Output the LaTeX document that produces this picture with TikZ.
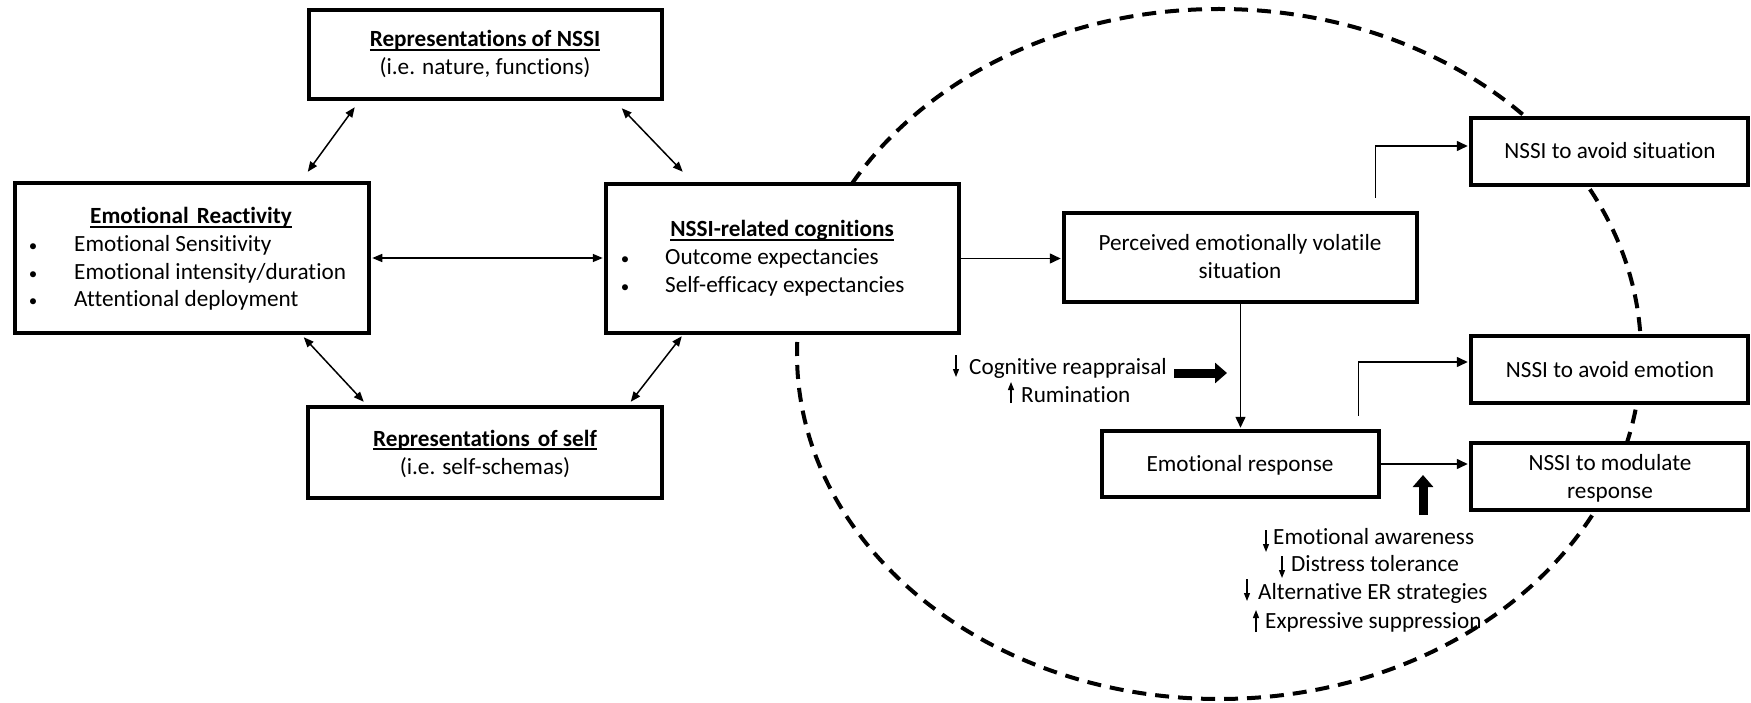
\documentclass[tikz,border=0pt]{standalone}
\usepackage{fontspec}
\setmainfont{Carlito}[Ligatures=CommonOff]
\usetikzlibrary{arrows.meta,calc}
\newcommand\myul[1]{\setbox0\hbox{#1}\rlap{\rule[-4pt]{\wd0}{1.6pt}}\box0}
\newcommand\mybul{{\fontsize{17}{17}\selectfont •}}
\begin{document}
\begin{tikzpicture}[x=1pt,y=-1pt,
  box/.style={draw, line width=4.5pt, fill=white, inner sep=0pt},
  txt/.style={font=\fontsize{23.2}{27.5}\selectfont, inner sep=0pt, anchor=base},
  ltxt/.style={txt, anchor=base west},
  dbl/.style={{Triangle[width=8pt,length=10pt]}-{Triangle[width=8pt,length=10pt]}, line width=1.5pt},
  one/.style={-{Triangle[width=10pt,length=11pt]}, line width=1.5pt},
  thickarr/.style={line width=9pt, -{Triangle[width=20pt,length=12pt]}},
  smallarr/.style={line width=1.2pt, -{Triangle[width=6pt,length=8pt]}},
  circ/.style={line width=4pt, dash pattern=on 14pt off 9pt}
]
\useasboundingbox (0,0) rectangle (1751,703);

% dashed ellipse (behind boxes)
\draw[circ] (1219,354) ellipse [x radius=422pt, y radius=345pt];

% boxes
\node[box, minimum width=353pt, minimum height=89pt] (repN) at (485.5,54.5) {};
\node[box, minimum width=354pt, minimum height=150pt] (emo) at (192,258) {};
\node[box, minimum width=353pt, minimum height=149pt] (cog) at (782.5,258.5) {};
\node[box, minimum width=354pt, minimum height=91pt] (repS) at (485,452.5) {};
\node[box, minimum width=353pt, minimum height=89pt] (perc) at (1240.5,257.5) {};
\node[box, minimum width=277pt, minimum height=66pt] (resp) at (1240.5,464) {};
\node[box, minimum width=277pt, minimum height=67pt] (avS) at (1609.5,151.5) {};
\node[box, minimum width=277pt, minimum height=67pt] (avE) at (1609.5,369.5) {};
\node[box, minimum width=277pt, minimum height=67pt] (mod) at (1609.5,476.5) {};

% box texts
\node[txt] (repNt) at (485,47) {\myul{\textbf{Representations of NSSI}}};
\node[txt] (repNs) at (485,75) {(i.e. nature, functions)};

\node[txt] (emot) at (191,224) {\myul{\textbf{Emotional\hspace{0.35em}Reactivity}}};
\node[txt] (emob1) at (33,252) {\mybul};
\node[txt] (emob2) at (33,280) {\mybul};
\node[txt] (emob3) at (33,307) {\mybul};
\node[ltxt] (emo1) at (74,252) {Emotional Sensitivity};
\node[ltxt] (emo2) at (74,280) {Emotional intensity/duration};
\node[ltxt] (emo3) at (74,307) {Attentional deployment};

\node[txt] (cogt) at (782,237) {\myul{\textbf{NSSI-related cognitions}}};
\node[txt] (cogb1) at (625,265) {\mybul};
\node[txt] (cogb2) at (625,293) {\mybul};
\node[ltxt] (cog1) at (665,265) {Outcome expectancies};
\node[ltxt] (cog2) at (665,293) {Self-efficacy expectancies};

\node[txt] (repSt) at (485,446) {\myul{\textbf{Representations\hspace{0.35em}of self}}};
\node[txt] (repSs) at (485,474) {(i.e. self-schemas)};

\node[txt] (perc1) at (1240,251) {Perceived emotionally volatile};
\node[txt] (perc2) at (1240,279) {situation};
\node[txt] (respt) at (1240,471) {Emotional response};
\node[txt] (avSt) at (1610,159) {NSSI to avoid situation};
\node[txt] (avEt) at (1610,377) {NSSI to avoid emotion};
\node[txt] (mod1) at (1610,470) {NSSI to modulate};
\node[txt] (mod2) at (1610,498) {response};

% moderator texts
\node[ltxt] (cr) at (969,374) {Cognitive reappraisal};
\node[ltxt] (ru) at (1021,402) {Rumination};
\node[ltxt] (ea) at (1273,544) {Emotional awareness};
\node[ltxt] (dt) at (1291,571) {Distress tolerance};
\node[ltxt] (ae) at (1258,599) {Alternative ER strategies};
\node[ltxt] (es) at (1265,628) {Expressive suppression};

% small arrows
\coordinate (a1s) at (956,355);  \coordinate (a1e) at (956,377);
\coordinate (a2s) at (1011,403); \coordinate (a2e) at (1011,382);
\coordinate (a3s) at (1266,530); \coordinate (a3e) at (1266,552);
\coordinate (a4s) at (1282,556); \coordinate (a4e) at (1282,578);
\coordinate (a5s) at (1247,579); \coordinate (a5e) at (1247,601);
\coordinate (a6s) at (1256,632); \coordinate (a6e) at (1256,610);
\foreach \i in {1,...,6} {\draw[smallarr] (a\i s) -- (a\i e);}

% thick arrows
\coordinate (t1s) at (1174,373); \coordinate (t1e) at (1227,373);
\coordinate (t2s) at (1423,515); \coordinate (t2e) at (1423,475);
\draw[thickarr] (t1s) -- (t1e);
\draw[thickarr] (t2s) -- (t2e);

% connectors
\draw[dbl] ($(repN.south west)+(48,6)$) -- ($(emo.north west)+(295,-9)$);
\draw[dbl] ($(repN.south west)+(315,7)$) -- ($(cog.north west)+(79,-10)$);
\draw[dbl] ($(emo.south west)+(291,2)$) -- ($(repS.north west)+(58,-3)$);
\draw[dbl] ($(cog.south west)+(78,1)$) -- ($(repS.north west)+(325,-3)$);
\draw[dbl, shorten <=1pt, shorten >=1pt] (emo.east) -- (emo.east -| cog.west);
\draw[one, shorten >=1pt] (cog.east) -- (cog.east -| perc.west);
\draw[one, shorten >=1pt] (perc.south) -- (resp.north);
\draw[one, shorten >=1pt] ($(perc.north east)+(-44,-13)$) |- ($(avS.west)+(0,-5.5)$);
\draw[one, shorten >=1pt] ($(resp.north east)+(-23,-13)$) |- ($(avE.west)+(0,-7.5)$);
\draw[one, shorten >=1pt] (resp.east) -- (resp.east -| mod.west);
\end{tikzpicture}
\end{document}
